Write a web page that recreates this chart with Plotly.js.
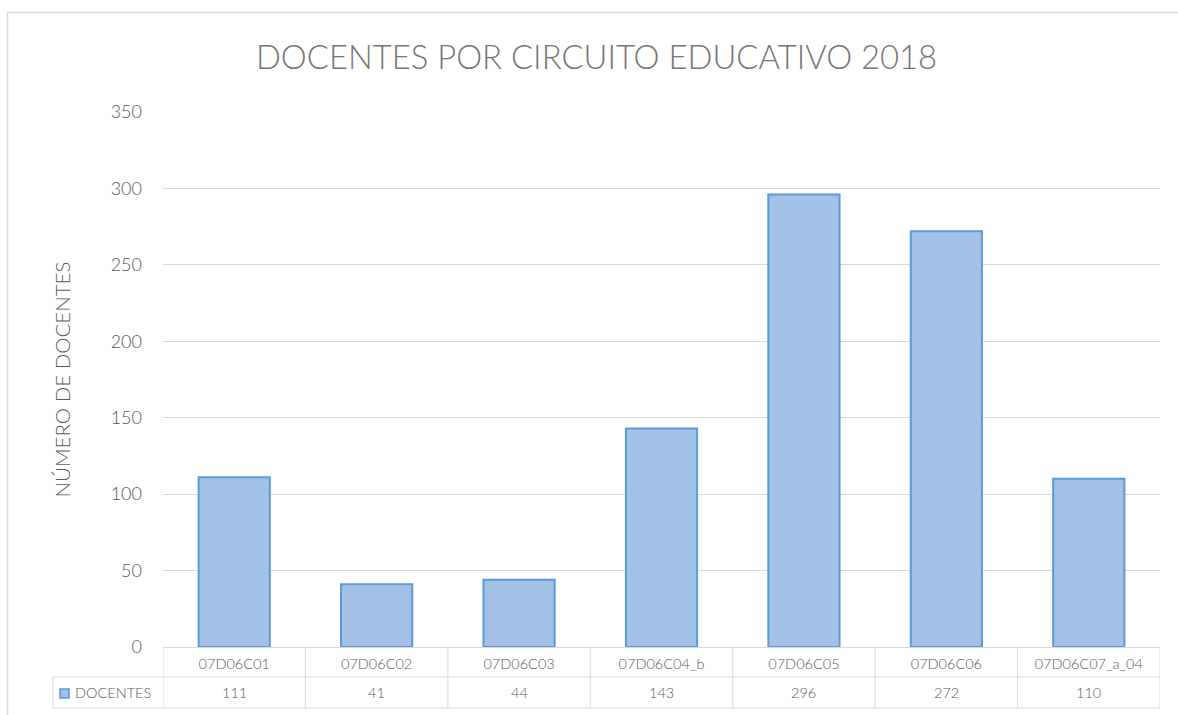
<!DOCTYPE html>
<html>
<head>
<meta charset="utf-8">
<script src="https://cdn.plot.ly/plotly-3.0.1.min.js"></script>
<style>
  body { margin: 0; background: #fff; }
  #plot { width: 1178px; height: 715px; }
</style>
</head>
<body>
<div id="plot"></div>
<script>
// data
var circuitos = ['07D06C01', '07D06C02', '07D06C03', '07D06C04_b', '07D06C05', '07D06C06', '07D06C07_a_04'];
var docentes = [111, 41, 44, 143, 296, 272, 110];
var serieNombre = 'DOCENTES';

var gris = '#d9d9d9';
var texto = '#595959';

// plot area: x 163..1160, y 112..647 (px)
var plotTop = 112, plotBottom = 647, plotH = plotBottom - plotTop;
function py(px) { return (plotBottom - px) / plotH; }   // pixel y -> paper y
var plotLeft = 163, plotW = 1160 - 163;
function pxX(px) { return (px - plotLeft) / plotW; }     // pixel x -> paper x

var trace = {
    type: 'bar',
    x: circuitos.map(function (c, i) { return i; }),
    y: docentes,
    name: serieNombre,
    marker: { color: '#a3c1e7', line: { color: '#5b9bd5', width: 2 } },
    hoverinfo: 'x+y'
};

var shapes = [];
var annotations = [];

// table grid: vertical lines at category boundaries
for (var i = 0; i <= circuitos.length; i++) {
    shapes.push({
        type: 'line', xref: 'x', yref: 'paper',
        x0: i - 0.5, x1: i - 0.5, y0: 0, y1: py(708),
        line: { color: gris, width: 1 }
    });
}
// horizontal lines of the table
shapes.push({ type: 'line', xref: 'paper', yref: 'paper', x0: pxX(53), x1: 1, y0: py(677), y1: py(677), line: { color: gris, width: 1 } });
shapes.push({ type: 'line', xref: 'paper', yref: 'paper', x0: pxX(53), x1: 1, y0: py(708), y1: py(708), line: { color: gris, width: 1 } });
shapes.push({ type: 'line', xref: 'paper', yref: 'paper', x0: pxX(53), x1: pxX(53), y0: py(677), y1: py(708), line: { color: gris, width: 1 } });
// legend key
shapes.push({ type: 'rect', xref: 'paper', yref: 'paper', x0: pxX(60), x1: pxX(69), y0: py(698), y1: py(689), fillcolor: '#a3c1e7', line: { color: '#5b9bd5', width: 1.5 } });
// outer chart border (left + top)
shapes.push({ type: 'line', xref: 'paper', yref: 'paper', x0: pxX(7), x1: pxX(1178), y0: py(12.5), y1: py(12.5), line: { color: gris, width: 1.5 } });
shapes.push({ type: 'line', xref: 'paper', yref: 'paper', x0: pxX(7.5), x1: pxX(7.5), y0: py(12), y1: py(715), line: { color: gris, width: 1.5 } });

// value row
docentes.forEach(function (v, i) {
    annotations.push({
        xref: 'x', yref: 'paper', x: i, y: py(692.5),
        xanchor: 'center', yanchor: 'middle',
        text: String(v), showarrow: false,
        font: { size: 14.5, color: texto, weight: 300 }
    });
});
annotations.push({
    xref: 'paper', yref: 'paper', x: pxX(73), y: py(692.5),
    xanchor: 'left', yanchor: 'middle',
    text: serieNombre, showarrow: false,
    font: { size: 14.5, color: texto, weight: 300 }
});

var layout = {
    width: 1178,
    height: 715,
    margin: { l: plotLeft, r: 1178 - 1160, t: plotTop, b: 715 - plotBottom, pad: 0 },
    paper_bgcolor: '#ffffff',
    plot_bgcolor: '#ffffff',
    font: { family: 'Lato, "Open Sans", sans-serif', color: texto, weight: 300 },
    title: {
        text: 'DOCENTES POR CIRCUITO EDUCATIVO 2018',
        font: { size: 32.8, color: '#757575', weight: 300 },
        x: 596.5 / 1178, xanchor: 'center', xref: 'container',
        y: 1 - 58 / 715, yanchor: 'middle', yref: 'container'
    },
    bargap: 0.5,
    showlegend: false,
    xaxis: {
        range: [-0.5, circuitos.length - 0.5],
        tickvals: circuitos.map(function (c, i) { return i; }),
        ticktext: circuitos,
        tickfont: { size: 14.5, color: texto, weight: 300 },
        ticks: '', showgrid: false, zeroline: false, showline: false,
        ticklabelstandoff: 6,
        fixedrange: true
    },
    yaxis: {
        range: [0, 350],
        dtick: 50,
        tickfont: { size: 18, color: texto, weight: 300 },
        gridcolor: gris, gridwidth: 1,
        zeroline: true, zerolinecolor: gris, zerolinewidth: 1,
        showline: false, ticks: '',
        ticklabelstandoff: 20,
        title: { text: 'NÚMERO DE DOCENTES', font: { size: 20.5, color: texto, weight: 300 }, standoff: 34 },
        fixedrange: true
    },
    shapes: shapes,
    annotations: annotations
};

Plotly.newPlot('plot', [trace], layout, { displayModeBar: false, staticPlot: true });
</script>
</body>
</html>
